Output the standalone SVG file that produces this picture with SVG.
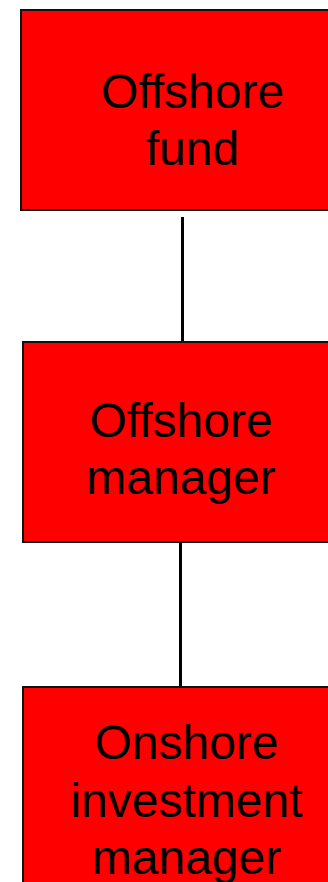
<svg xmlns="http://www.w3.org/2000/svg" width="328" height="882" viewBox="0 0 328 882">
<style>
.box{fill:#ff0000;stroke:#111111;stroke-width:2}
.lbl{font-family:"Liberation Sans",Arial,sans-serif;font-size:48px;fill:#000000;text-anchor:middle}
.conn{stroke:#000000;stroke-width:3;fill:none}
</style>
<rect width="328" height="882" fill="#ffffff"/>
<g id="connectors">
<line class="conn" x1="182.5" y1="217" x2="182.5" y2="342"/>
<line class="conn" x1="180.5" y1="543" x2="180.5" y2="687"/>
</g>
<g id="offshore-fund">
<rect class="box" x="21" y="10" width="345" height="200"/>
<text class="lbl" x="192.5" y="108">Offshore</text>
<text class="lbl" x="192.5" y="165">fund</text>
</g>
<g id="offshore-manager">
<rect class="box" x="23" y="342" width="345" height="200"/>
<text class="lbl" x="181" y="437">Offshore</text>
<text class="lbl" x="181" y="494">manager</text>
</g>
<g id="onshore-investment-manager">
<rect class="box" x="23" y="687" width="345" height="220"/>
<text class="lbl" x="186.5" y="759">Onshore</text>
<text class="lbl" x="186.5" y="817">investment</text>
<text class="lbl" x="186.5" y="874">manager</text>
</g>
</svg>
